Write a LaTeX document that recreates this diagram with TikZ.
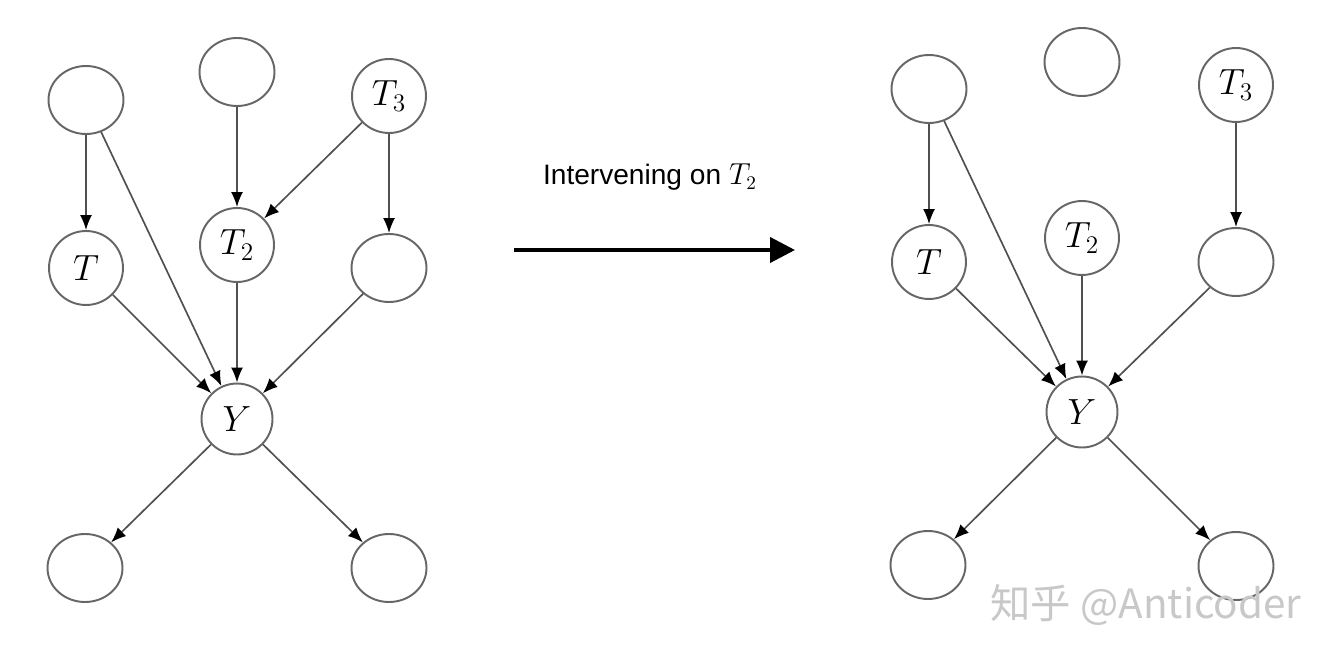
\documentclass[tikz,border=0pt]{standalone}
\usepackage{fontspec}
\newfontfamily\labelfont{Liberation Sans}
\newfontfamily\cjk{Noto Sans CJK SC}
\usetikzlibrary{arrows.meta,shapes.geometric}
\definecolor{ring}{HTML}{666666}
\definecolor{edge}{HTML}{505050}
\definecolor{wmgray}{HTML}{C8C8C8}
\tikzset{
 var/.style={draw=ring,line width=1.1pt,ellipse,minimum width=1.5cm,minimum height=1.36cm,inner sep=0pt},
 obs/.style={var,minimum width=1.48cm,minimum height=1.48cm,font=\fontsize{20}{20}\selectfont},
 link/.style={-{Latex[length=3mm,width=2.4mm,color=black]},line width=0.95pt,draw=edge},
 act/.style={-{Triangle[length=5mm,width=5mm]},line width=2.3pt,draw=black}}

\begin{document}
\begin{tikzpicture}[x=0.02cm,y=-0.02cm]
\useasboundingbox (0,0) rectangle (1336,662);

% before the intervention
\node[var] (ltopa) at (86,100) {};
\node[var] (ltopb) at (237,72) {};
\node[obs] (lthree) at (389,96) {$T_3$};
\node[obs] (lt) at (86,268) {$T$};
\node[obs] (ltwo) at (237,245) {$T_2$};
\node[var] (lmid) at (389,268) {};
\node[obs,minimum size=1.42cm] (ly) at (237,419) {$Y$};
\node[var] (lbota) at (85,568) {};
\node[var] (lbotb) at (389,568) {};

\draw[link] (ltopa) -- (lt);
\draw[link] (ltopa) -- (ly);
\draw[link] (ltopb) -- (ltwo);
\draw[link] (lthree) -- (ltwo);
\draw[link] (lthree) -- (lmid);
\draw[link] (lt) -- (ly);
\draw[link] (ltwo) -- (ly);
\draw[link] (lmid) -- (ly);
\draw[link] (ly) -- (lbota);
\draw[link] (ly) -- (lbotb);

% the intervention
\node[font=\labelfont\fontsize{16}{16}\selectfont] (actlabel) at (650,177) {Intervening on $T_2$};
\coordinate (actfrom) at (514,250);
\coordinate (actto) at (795,250);
\draw[act] (actfrom) -- (actto);

% after the intervention
\node[var] (rtopa) at (929,89) {};
\node[var] (rtopb) at (1082,62) {};
\node[obs] (rthree) at (1236,85) {$T_3$};
\node[obs] (rt) at (929,262) {$T$};
\node[obs] (rtwo) at (1082,238) {$T_2$};
\node[var] (rmid) at (1236,262) {};
\node[obs,minimum size=1.42cm] (ry) at (1082,412) {$Y$};
\node[var] (rbota) at (928,565) {};
\node[var] (rbotb) at (1236,566) {};

\draw[link] (rtopa) -- (rt);
\draw[link] (rtopa) -- (ry);
\draw[link] (rthree) -- (rmid);
\draw[link] (rt) -- (ry);
\draw[link] (rtwo) -- (ry);
\draw[link] (rmid) -- (ry);
\draw[link] (ry) -- (rbota);
\draw[link] (ry) -- (rbotb);

\node[text=wmgray,font=\cjk\fontsize{23}{23}\selectfont] (watermark) at (1146,605) {知乎 @Anticoder};
\end{tikzpicture}
\end{document}
